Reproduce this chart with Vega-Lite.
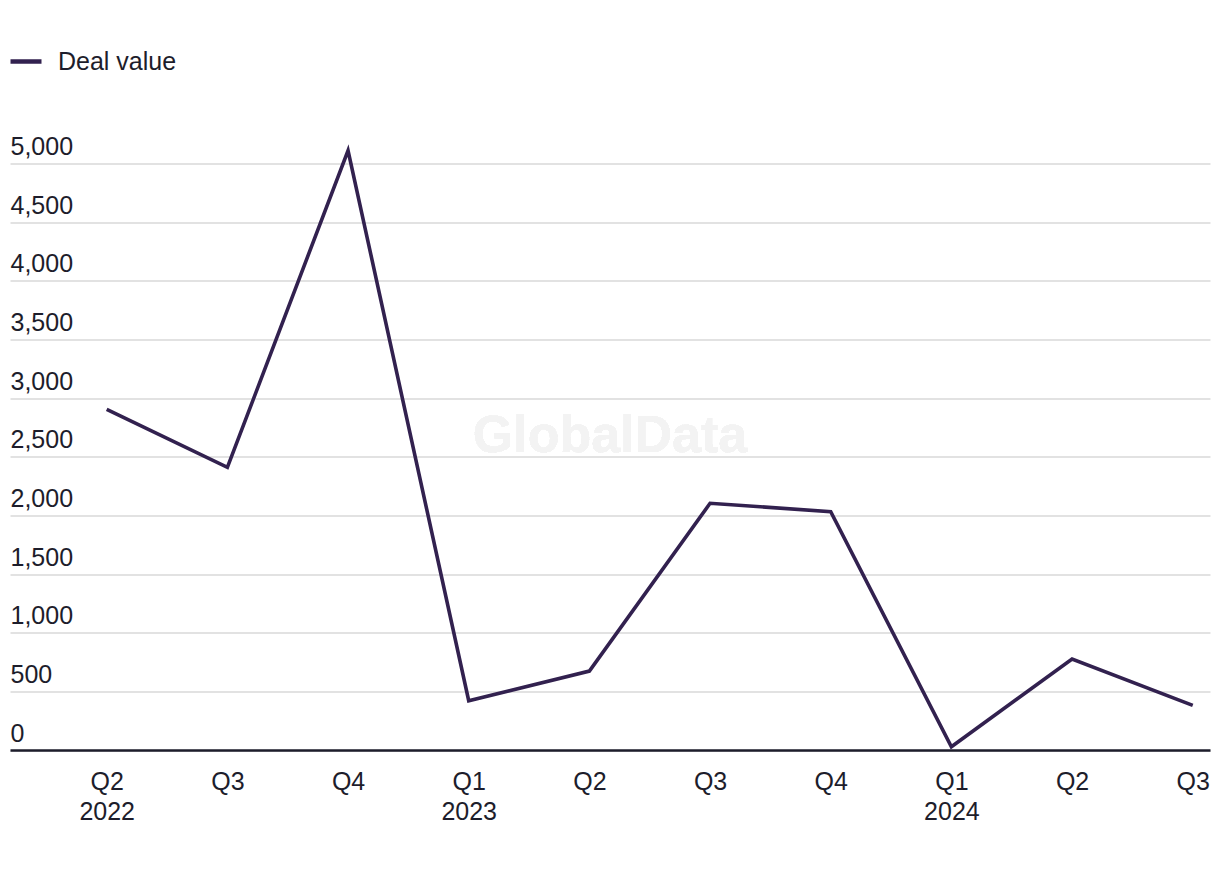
{
  "$schema": "https://vega.github.io/schema/vega-lite/v6.json",
  "autosize": {"type": "none"},
  "width": 1200,
  "height": 586.5,
  "padding": {"left": 10, "top": 163.5, "right": 10, "bottom": 122},
  "background": "#ffffff",
  "config": {
    "view": {"stroke": null},
    "font": "Liberation Sans",
    "axis": {"labelFont": "Liberation Sans", "labelColor": "#1d1d2b", "labelFontSize": 25, "titleFontSize": 0}
  },
  "data": {
    "values": [
      {"q": 0, "period": "Q2 2022", "value": 2904, "series": "Deal value"},
      {"q": 1, "period": "Q3 2022", "value": 2410, "series": "Deal value"},
      {"q": 2, "period": "Q4 2022", "value": 5110, "series": "Deal value"},
      {"q": 3, "period": "Q1 2023", "value": 420, "series": "Deal value"},
      {"q": 4, "period": "Q2 2023", "value": 673, "series": "Deal value"},
      {"q": 5, "period": "Q3 2023", "value": 2103, "series": "Deal value"},
      {"q": 6, "period": "Q4 2023", "value": 2032, "series": "Deal value"},
      {"q": 7, "period": "Q1 2024", "value": 28, "series": "Deal value"},
      {"q": 8, "period": "Q2 2024", "value": 776, "series": "Deal value"},
      {"q": 9, "period": "Q3 2024", "value": 381, "series": "Deal value"}
    ]
  },
  "layer": [
    {
      "mark": {"type": "text", "text": "GlobalData", "font": "Liberation Sans", "fontWeight": "bold", "fontSize": 52, "color": "#f3f3f3", "align": "center", "baseline": "middle", "x": {"expr": "width/2"}, "y": {"expr": "height/2 - 21"}},
      "encoding": {}
    },
    {
      "mark": {"type": "line", "strokeWidth": 3.6, "strokeJoin": "miter", "strokeCap": "butt"},
      "encoding": {
        "x": {
          "field": "q",
          "type": "quantitative",
          "scale": {"domain": [-0.8014, 9.143], "nice": false, "zero": false},
          "axis": {
            "title": null,
            "values": [0, 1, 2, 3, 4, 5, 6, 7, 8, 9],
            "ticks": false,
            "tickSize": 0,
            "grid": false,
            "domain": true,
            "domainColor": "#1d1d2b",
            "domainWidth": 2.5,
            "labelAngle": 0,
            "labelAlign": "center",
            "labelBaseline": "top",
            "labelPadding": 19,
            "labelLineHeight": 30,
            "labelFlush": false,
            "labelOverlap": false,
            "labelExpr": "[['Q2','2022'],'Q3','Q4',['Q1','2023'],'Q2','Q3','Q4',['Q1','2024'],'Q2','Q3'][datum.value]"
          }
        },
        "y": {
          "field": "value",
          "type": "quantitative",
          "scale": {"domain": [0, 5000], "nice": false, "zero": true},
          "axis": {
            "title": null,
            "values": [0, 500, 1000, 1500, 2000, 2500, 3000, 3500, 4000, 4500, 5000],
            "format": ",.0f",
            "ticks": false,
            "tickSize": 0,
            "domain": false,
            "grid": true,
            "gridColor": "#d9d9d9",
            "gridWidth": 1.6,
            "labelAlign": "left",
            "labelBaseline": "alphabetic",
            "labelPadding": 0,
            "labelOffset": -9
          }
        },
        "color": {
          "field": "series",
          "type": "nominal",
          "scale": {"range": ["#32214f"]},
          "legend": {
            "title": null,
            "orient": "none",
            "legendX": -2,
            "legendY": -120,
            "padding": 0,
            "symbolType": "stroke",
            "symbolSize": 961,
            "symbolStrokeWidth": 4.5,
            "labelFont": "Liberation Sans",
            "labelFontSize": 25,
            "labelColor": "#1d1d2b",
            "labelOffset": 14
          }
        }
      }
    }
  ]
}
